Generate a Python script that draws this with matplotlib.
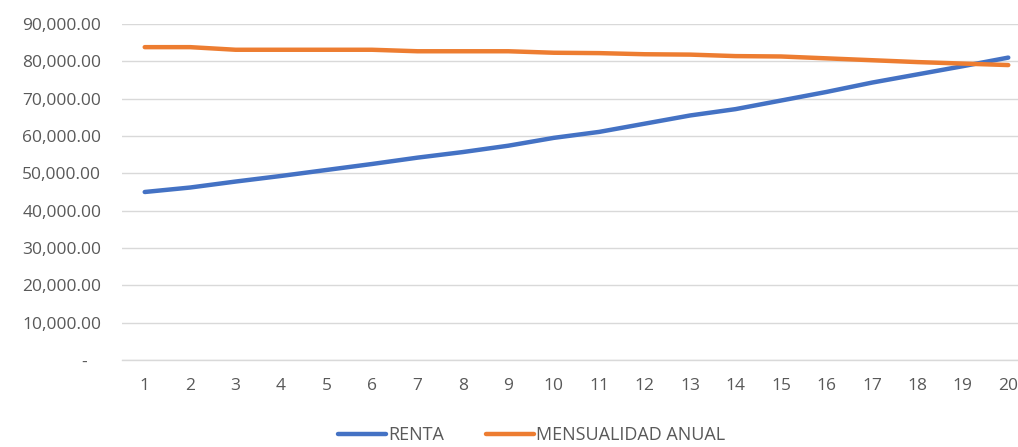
import matplotlib.pyplot as plt
from matplotlib.ticker import FuncFormatter

plt.rcParams['font.family'] = ['Open Sans', 'DejaVu Sans']

# Valores
anios = list(range(1, 21))
renta = [45000, 46200, 47800, 49300, 50900, 52500, 54200, 55700, 57400, 59500,
         61100, 63300, 65500, 67200, 69500, 71800, 74300, 76500, 78700, 81000]
mensualidad = [83800, 83800, 83100, 83100, 83100, 83100, 82700, 82700, 82700, 82300,
               82200, 81900, 81800, 81400, 81300, 80800, 80300, 79800, 79400, 79000]

fig = plt.figure(figsize=(10.18, 4.47), dpi=100)
ax = fig.add_axes([122 / 1018, 87 / 447, (1031 - 122) / 1018, 336 / 447])

ax.plot(anios, renta, color='#4472C4', lw=3.2, label='RENTA', solid_capstyle='round')
ax.plot(anios, mensualidad, color='#ED7D31', lw=3.2, label='MENSUALIDAD ANUAL',
        solid_capstyle='round')

ax.set_xlim(0.5, 20.5)
ax.set_ylim(0, 90000)
ax.set_xticks(anios)
ax.set_yticks(range(0, 90001, 10000))


def fmt(v, pos):
    if v == 0:
        return '-   '
    return f'{v:,.2f}'


ax.yaxis.set_major_formatter(FuncFormatter(fmt))
ax.grid(axis='y', color='#D9D9D9', lw=1)
ax.axhline(0, color='#D9D9D9', lw=1, clip_on=False, zorder=0)
ax.set_axisbelow(True)
for s in ax.spines.values():
    s.set_visible(False)
ax.tick_params(axis='both', length=0, colors='#595959', labelsize=12.5)
ax.tick_params(axis='y', pad=15)
ax.tick_params(axis='x', pad=13)

fig.legend(loc='lower center', bbox_to_anchor=(0.522, -0.03), ncol=2, frameon=False,
           fontsize=13, labelcolor='#595959', handlelength=2.7, handletextpad=0.1,
           columnspacing=2.3)

fig.savefig('out.png', dpi=100)
